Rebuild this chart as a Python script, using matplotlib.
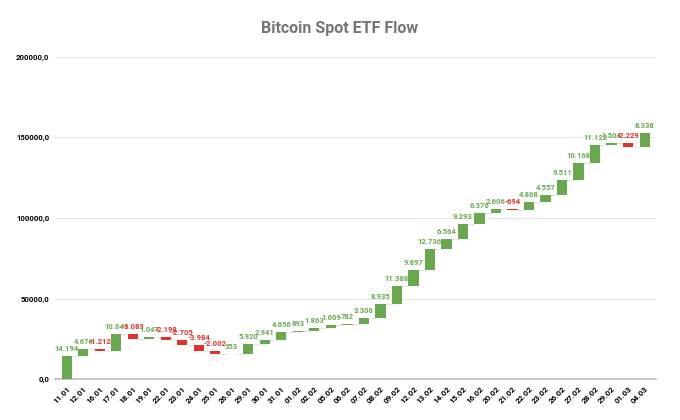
import matplotlib.pyplot as plt
import numpy as np

dates = ['11.01', '12.01', '16.01', '17.01', '18.01', '19.01', '22.01', '23.01', '24.01',
         '25.01', '26.01', '29.01', '30.01', '31.01', '01.02', '02.02', '05.02', '06.02',
         '07.02', '08.02', '09.02', '12.02', '13.02', '14.02', '15.02', '16.02', '20.02',
         '21.02', '22.02', '23.02', '26.02', '27.02', '28.02', '29.02', '01.03', '04.03']
flows = [14194, 4676, -1212, 10641, -3083, 1047, -2198, -2705, -3984,
         -2002, 353, 5920, 2941, 4656, 893, 1863, 1609, 782,
         3306, 8935, 11388, 9897, 12736, 6564, 9293, 6376, 2606,
         -694, 4868, 4557, 9511, 10168, 11122, 1504, -2229, 8338]

green = '#6aa84f'
red = '#e0312b'

flows = np.array(flows)
ends = np.cumsum(flows)
starts = ends - flows
x = np.arange(len(dates))

plt.rcParams['font.family'] = ['Roboto', 'DejaVu Sans']
fig, ax = plt.subplots(figsize=(6.8, 4.2), dpi=100)
fig.subplots_adjust(left=0.081, right=0.965, top=0.865, bottom=0.097)

colors = [green if v >= 0 else red for v in flows]
ax.bar(x, flows, bottom=starts, width=0.62, color=colors, zorder=3)

# connector lines between bars
for i in range(len(x) - 1):
    ax.plot([x[i] + 0.31, x[i + 1] - 0.31], [ends[i], ends[i]], color='#dddddd',
            lw=0.6, zorder=2)

for i, v in enumerate(flows):
    top = max(starts[i], ends[i])
    txt = f'{v:,}'.replace(',', '.')
    ax.text(x[i], top + 2500, txt, ha='center', va='bottom', fontsize=5.5,
            color=green if v >= 0 else red, fontweight='bold', zorder=4)

ax.set_ylim(0, 200000)
ax.set_xlim(-0.7, len(x) - 0.3)
ax.set_yticks([0, 50000, 100000, 150000, 200000])
ax.set_yticklabels(['0,0', '50000,0', '100000,0', '150000,0', '200000,0'],
                   fontsize=5.6, fontweight='bold')
ax.set_xticks(x)
ax.set_xticklabels(dates, rotation=45, ha='right', rotation_mode='anchor',
                   fontsize=5.8, fontweight='bold')
ax.tick_params(length=0, pad=4)
ax.grid(axis='y', color='#e6e6e6', lw=0.8, zorder=0)
for s in ['top', 'right', 'left']:
    ax.spines[s].set_visible(False)
ax.spines['bottom'].set_color('#bbbbbb')
ax.spines['bottom'].set_linewidth(1.2)

fig.suptitle('Bitcoin Spot ETF Flow', x=0.5, y=0.95, fontsize=11.5,
             fontweight='bold', color='#757575')

plt.savefig('out.png', dpi=100)
